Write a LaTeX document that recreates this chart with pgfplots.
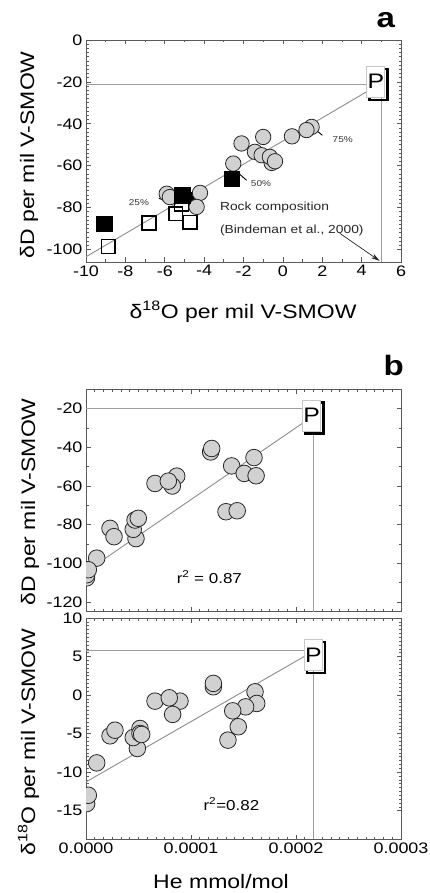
\documentclass[border=0pt]{standalone}
\usepackage{fontspec}
\setmainfont{Liberation Sans}[FakeStretch=1.18]
\usepackage{pgfplots}
\pgfplotsset{compat=1.18}
\usetikzlibrary{arrows.meta}

\definecolor{dotfill}{gray}{0.82}
\definecolor{framecol}{gray}{0.35}
\definecolor{guide}{gray}{0.62}
\definecolor{fitcol}{gray}{0.55}

\pgfplotsset{
  panel/.style={
    scale only axis, width=315pt, anchor=north west,
    axis line style={framecol, line width=0.9pt},
    every tick/.style={framecol, line width=0.7pt},
    tick align=inside,
    major tick length=4.5pt, minor tick length=2.5pt,
    tick label style={font=\fontsize{15.2}{15.2}\selectfont},
    /pgf/number format/assume math mode=true,
  },
  dot/.style={only marks, mark=*, mark size=7.7pt, fill=dotfill, draw=black!85, line width=0.8pt},
  bigdot/.style={only marks, mark=*, mark size=8.3pt, fill=dotfill, draw=black!85, line width=0.8pt},
  blacksq/.style={only marks, mark=square*, mark size=7.8pt, fill=black, draw=black},
  opensq/.style={only marks, mark=square, mark size=6.8pt, draw=black, line width=1.5pt},
}
\tikzset{
  guideline/.style={guide, line width=1.1pt},
  fitline/.style={fitcol, line width=0.9pt},
  pbox/.style={fill=white, draw=black!22, line width=0.7pt, minimum width=18pt,
    minimum height=31pt, inner sep=0pt, font=\fontsize{21}{21}\selectfont},
  pshadow/.style={pbox, fill=none, draw=black, line width=2.4pt, xshift=2.6pt, yshift=-2.6pt},
}

\begin{document}
\begin{tikzpicture}
\path[use as bounding box] (0,0) rectangle (430pt,-893pt);

% ---------------- panel a: dD versus d18O ----------------
\begin{axis}[panel, at={(86pt,-40pt)}, height=222pt,
  xmin=-10, xmax=6, ymin=-106, ymax=0,
  xtick={-10,-8,...,6}, ytick={-100,-80,...,0},
  minor x tick num=1, minor y tick num=9]
\draw[guideline] (axis cs:-10,-21.2) -- (axis cs:4.7,-21.2);
\draw[guideline] (axis cs:5.01,-20) -- (axis cs:5.01,-106);
\draw[fitline] (axis cs:-10,-103.5) -- (axis cs:4.6,-22.8);
% rock samples
\addplot[opensq] coordinates {(-8.87,-98.6) (-6.8,-87.4) (-5.45,-82.9) (-4.72,-87.0) (-5.15,-78.5)};
\addplot[only marks, mark=square*, mark size=4pt, fill=black, draw=black] coordinates {(-4.5,-74.8)};
% fluids
\addplot[dot] coordinates {
  (1.46,-41.5) (1.2,-43) (0.46,-46) (-1.0,-46.3) (-2.1,-49.4) (-1.42,-53.4)
  (-1.08,-55) (-0.57,-58.7) (-0.66,-55.8) (-0.4,-57.9) (-2.52,-59)
  (-5.9,-73.4) (-5.74,-75) (-4.21,-73) (-4.38,-79.7)};
\addplot[blacksq] coordinates {(-9.07,-87.7) (-5.1,-74.2) (-2.6,-66.2)};
% mixing proportions
\draw[black, line width=0.9pt] (axis cs:1.54,-42) -- (axis cs:2.01,-45.5);
\node[anchor=west, font=\fontsize{8.5}{8.5}\selectfont, black!80] at (axis cs:2.35,-47.5) {75\%};
\draw[black, line width=0.9pt] (axis cs:-2.27,-63.5) -- (axis cs:-1.84,-67);
\node[anchor=west, font=\fontsize{8.5}{8.5}\selectfont, black!80] at (axis cs:-1.8,-68.6) {50\%};
\draw[black, line width=0.9pt] (axis cs:-6.3,-75.6) -- (axis cs:-6.0,-76.6);
\node[anchor=west, font=\fontsize{8.5}{8.5}\selectfont, black!80] at (axis cs:-8.0,-77.6) {25\%};
\node[anchor=base west, font=\fontsize{11.7}{11.7}\selectfont, black!85] at (axis cs:-3.37,-81.2) {Rock composition};
\node[anchor=base west, font=\fontsize{11.7}{11.7}\selectfont, black!85] at (axis cs:-3.37,-92.3) {(Bindeman et al., 2000)};
\draw[-{Stealth[length=9pt,width=5pt]}, line width=0.7pt, black!85] (axis cs:2.89,-92.3) -- (axis cs:4.92,-105.5);
\node[pshadow] at (axis cs:4.72,-19.9) {\phantom{P}};
\node[pbox] at (axis cs:4.72,-19.9) {P};
\end{axis}

% ---------------- panel b (upper): dD versus He ----------------
\begin{axis}[panel, at={(86pt,-389.3pt)}, height=222.4pt,
  xmin=0, xmax=0.0003, ymin=-125, ymax=-10,
  xtick={0,0.0001,0.0002,0.0003}, xticklabels={}, scaled x ticks=false,
  ytick={-120,-100,...,-20},
  minor x tick num=11, minor y tick num=1, clip marker paths=true]
\draw[guideline] (axis cs:0,-20) -- (axis cs:0.000212,-20);
\draw[guideline] (axis cs:0.0002165,-24) -- (axis cs:0.0002165,-125);
\draw[fitline] (axis cs:0,-104.2) -- (axis cs:0.000209,-26.5);
\addplot[bigdot] coordinates {
  (0.0001187,-42.4) (0.0001197,-40.6) (0.000160,-45.3) (0.0001387,-49.6)
  (0.0001507,-53.5) (0.000162,-54.7) (0.0000864,-54.9) (0.0000657,-58.7)
  (0.0000822,-60) (0.0000784,-57.5) (0.0001333,-73.3) (0.000144,-72.8)
  (0.0000476,-87.2) (0.000045,-82.4) (0.0000467,-77.6) (0.0000498,-76.7)
  (0.0000229,-81.9) (0.0000267,-86.2) (0.0000102,-97.3)
  (0.0000005,-107.5) (0.0000006,-105.9) (0.0000022,-103.3)};
\node[anchor=base west, font=\fontsize{14.4}{14.4}\selectfont] at (axis cs:0.0000831,-110.2) {r\textsuperscript{2} = 0.87};
\node[pshadow] at (axis cs:0.000215,-23.5) {\phantom{P}};
\node[pbox] at (axis cs:0.000215,-23.5) {P};
\end{axis}

% ---------------- panel b (lower): d18O versus He ----------------
\begin{axis}[panel, at={(86pt,-618pt)}, height=221.3pt,
  xmin=0, xmax=0.0003, ymin=-18.7, ymax=10,
  xtick={0,0.0001,0.0002,0.0003},
  xticklabels={0.0000,0.0001,0.0002,0.0003}, scaled x ticks=false,
  ytick={-15,-10,...,10},
  minor x tick num=11, minor y tick num=9, clip marker paths=true]
\draw[guideline] (axis cs:0,5.75) -- (axis cs:0.000212,5.75);
\draw[guideline] (axis cs:0.0002165,5) -- (axis cs:0.0002165,-18.7);
\draw[fitline] (axis cs:0,-11.26) -- (axis cs:0.000209,5.1);
\addplot[bigdot] coordinates {
  (0.0001213,1.08) (0.0001213,1.52) (0.000161,0.43) (0.0001626,-1.08)
  (0.000152,-1.52) (0.0001397,-2.04) (0.000145,-4.1) (0.0001352,-5.84)
  (0.0000657,-0.78) (0.0000895,-0.78) (0.0000825,-2.5) (0.0000793,-0.35)
  (0.0000229,-5.28) (0.0000276,-4.55) (0.0000489,-6.92) (0.000045,-5.5)
  (0.0000514,-4.33) (0.0000514,-4.98) (0.000053,-5.1)
  (0.0000102,-8.79) (0.0000006,-14.07) (0.0000022,-12.99)};
\node[anchor=base west, font=\fontsize{14.4}{14.4}\selectfont] at (axis cs:0.0001086,-14.9) {r\textsuperscript{2}=0.82};
\node[pshadow] at (axis cs:0.0002165,5.19) {\phantom{P}};
\node[pbox] at (axis cs:0.0002165,5.19) {P};
\end{axis}

% ---------------- titles and axis labels ----------------
\node[anchor=base west, font=\fontsize{28}{28}\selectfont\bfseries] at (373pt,-28pt) {a};
\node[anchor=base west, font=\fontsize{28}{28}\selectfont\bfseries] at (380pt,-375pt) {b};
\node[anchor=base, rotate=90, font=\fontsize{19.5}{19.5}\selectfont] at (34pt,-155pt) {δD\,\,per mil V-SMOW};
\node[anchor=base, font=\fontsize{19.5}{19.5}\selectfont] at (243pt,-318.3pt) {δ\textsuperscript{18}O\,\,per mil V-SMOW};
\node[anchor=base, rotate=90, font=\fontsize{19.5}{19.5}\selectfont] at (35pt,-502pt) {δD\,\,per mil V-SMOW};
\node[anchor=base, rotate=90, font=\fontsize{19.5}{19.5}\selectfont] at (35pt,-742pt) {δ\textsuperscript{18}O\,\,per mil V-SMOW};
\node[anchor=base, font=\fontsize{19.5}{19.5}\selectfont] at (221pt,-888pt) {He\,\,mmol/mol};
\end{tikzpicture}
\end{document}
